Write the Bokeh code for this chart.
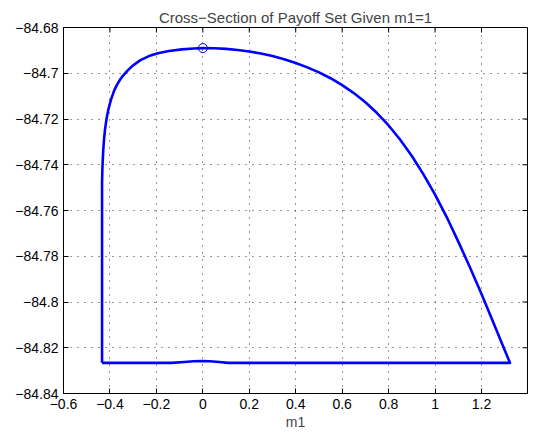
from bokeh.plotting import figure
from bokeh.models import Range1d, FixedTicker, CustomJSTickFormatter, LinearAxis, ColumnDataSource
from bokeh.embed import file_html
from bokeh.resources import INLINE

# Boundary of the payoff-set cross-section, traced from the lower-left
# corner, up the left wall, over the top arc, then back along the bottom edge.
boundary_m1 = [
    -0.434, -0.434, -0.4327, -0.4310, -0.4288, -0.4258, -0.4215, -0.4155,
    -0.4074, -0.3962, -0.3811, -0.3704, -0.3575, -0.3416, -0.3223, -0.2986,
    -0.2686, -0.2320, -0.1934, -0.1461, -0.0902, -0.0386, 0.0,
    0.05, 0.10, 0.15, 0.20, 0.25, 0.30, 0.35, 0.40, 0.45, 0.50, 0.55,
    0.60, 0.65, 0.70, 0.75, 0.80, 0.85, 0.90, 0.95, 1.00, 1.05, 1.10,
    1.15, 1.20, 1.25, 1.30, 1.3225,
    0.108, 0.07, 0.03, -0.005, -0.04, -0.08, -0.135, -0.434,
]
boundary_payoff = [
    -84.8266, -84.74815, -84.74233, -84.73796, -84.73359, -84.72922, -84.72485, -84.72048,
    -84.71610, -84.71173, -84.70736, -84.70517, -84.70299, -84.70080, -84.69862, -84.69643,
    -84.69425, -84.69250, -84.69127, -84.69031, -84.68957, -84.68915, -84.68900,
    -84.68908, -84.68935, -84.68982, -84.69049, -84.69138, -84.69249, -84.69386, -84.69550, -84.69742, -84.69964, -84.70217,
    -84.70520, -84.70868, -84.71271, -84.71739, -84.72282, -84.72907, -84.73619, -84.74420, -84.75310, -84.76287, -84.77360,
    -84.78480, -84.79650, -84.80870, -84.82110, -84.8266,
    -84.8266, -84.8262, -84.8259, -84.8258, -84.8259, -84.8262, -84.8266, -84.8266,
]

# Highlighted point at the top of the arc
peak_m1 = [0.0]
peak_payoff = [-84.689]

x_ticks = [-0.6, -0.4, -0.2, 0.0, 0.2, 0.4, 0.6, 0.8, 1.0, 1.2]
y_ticks = [-84.84, -84.82, -84.80, -84.78, -84.76, -84.74, -84.72, -84.70, -84.68]

X_MIN, X_MAX = -0.6, 1.398
Y_MIN, Y_MAX = -84.84, -84.68

FONT = "Liberation Sans"
FS = "14px"

W, H = 542, 432
BL, BR, BT, BB = 63, 15, 27, 39

p = figure(
    width=W, height=H,
    x_range=Range1d(X_MIN, X_MAX), y_range=Range1d(Y_MIN, Y_MAX),
    output_backend="svg", toolbar_location=None,
    min_border_left=BL, min_border_right=BR, min_border_top=BT, min_border_bottom=BB,
    x_axis_location=None, y_axis_location=None,
    background_fill_color="white", border_fill_color="white",
)

p.title.text = "Cross\u2212Section of Payoff Set Given m1=1"
p.title.align = "center"
p.title.text_font = FONT
p.title.text_font_size = "15px"
p.title.text_font_style = "normal"
p.title.offset = 0
p.title.standoff = 4

fmt = CustomJSTickFormatter(code="""
    const s = (Math.round(tick * 100) / 100).toString();
    return s.replace('-', '\\u2212');
""")

TICK = 5


def style_axis(ax, ticks):
    ax.ticker = FixedTicker(ticks=ticks)
    ax.major_tick_in = TICK
    ax.major_tick_out = 0
    ax.minor_tick_line_color = None
    ax.axis_line_color = "black"
    ax.axis_line_width = 1
    ax.major_tick_line_color = "black"
    ax.formatter = fmt
    ax.major_label_text_font = FONT
    ax.major_label_text_font_size = FS
    ax.major_label_text_color = "black"


bottom = LinearAxis(axis_label="m1")
style_axis(bottom, x_ticks)
bottom.major_label_standoff = 5
bottom.axis_label_text_font = FONT
bottom.axis_label_text_font_size = FS
bottom.axis_label_text_font_style = "normal"
bottom.axis_label_standoff = 2
p.add_layout(bottom, "below")

left = LinearAxis()
style_axis(left, y_ticks)
left.major_label_standoff = 5
p.add_layout(left, "left")

p.outline_line_color = "black"
p.outline_line_width = 1

# Inward tick marks along the top and right edges of the box
frame_w = W - BL - BR
frame_h = H - BT - BB
dx = TICK * (X_MAX - X_MIN) / frame_w
dy = TICK * (Y_MAX - Y_MIN) / frame_h
p.segment(x0=x_ticks, y0=[Y_MAX] * len(x_ticks), x1=x_ticks, y1=[Y_MAX - dy] * len(x_ticks),
          line_color="black", line_width=1)
p.segment(x0=[X_MAX] * len(y_ticks), y0=y_ticks, x1=[X_MAX - dx] * len(y_ticks), y1=y_ticks,
          line_color="black", line_width=1)

for g in (p.xgrid, p.ygrid):
    g.grid_line_color = "#333333"
    g.grid_line_dash = "1 6"
    g.grid_line_width = 1
p.xgrid.ticker = FixedTicker(ticks=x_ticks)
p.ygrid.ticker = FixedTicker(ticks=y_ticks)

src = ColumnDataSource(dict(m1=boundary_m1, payoff=boundary_payoff))
p.line("m1", "payoff", source=src, line_color="#0000ff", line_width=2.6, line_join="round")

p.scatter(peak_m1, peak_payoff, marker="circle", size=9, fill_color=None,
          line_color="#0000ff", line_width=1)

open("out.html", "w").write(file_html(p, INLINE))
